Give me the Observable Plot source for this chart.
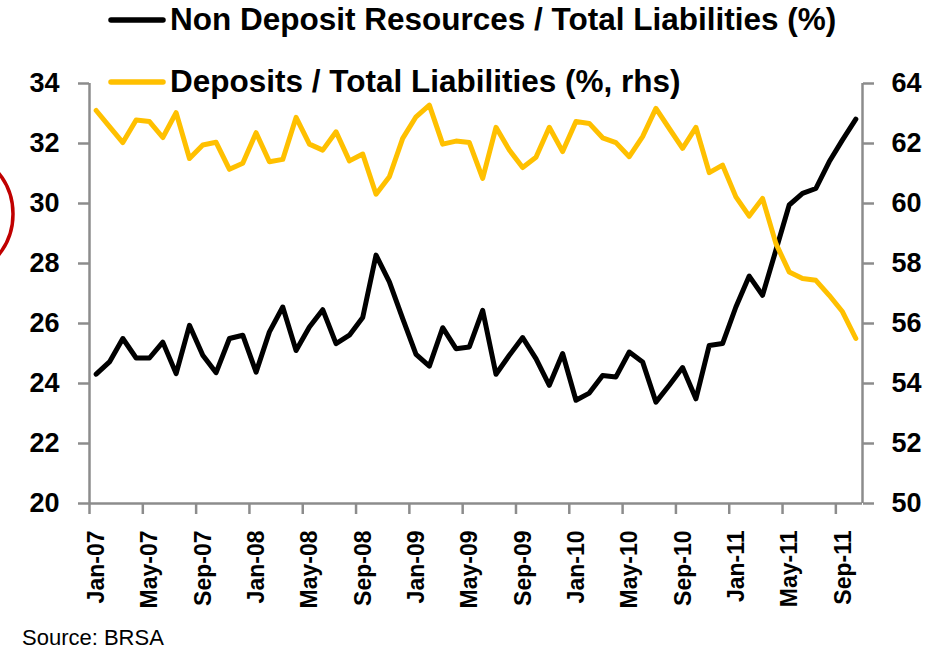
<!DOCTYPE html>
<html>
<head>
<meta charset="utf-8">
<script src="https://cdn.jsdelivr.net/npm/d3@7"></script>
<script src="https://cdn.jsdelivr.net/npm/@observablehq/plot@0.6"></script>
<style>
  html, body { margin: 0; padding: 0; background: #fff; }
  #chart svg { display: block; }
</style>
</head>
<body>
<div id="chart"></div>
<script>
// ---- categories (monthly, Jan-07 .. Oct-11) ----
const months = [
  "Jan-07","Feb-07","Mar-07","Apr-07","May-07","Jun-07","Jul-07","Aug-07","Sep-07","Oct-07","Nov-07","Dec-07",
  "Jan-08","Feb-08","Mar-08","Apr-08","May-08","Jun-08","Jul-08","Aug-08","Sep-08","Oct-08","Nov-08","Dec-08",
  "Jan-09","Feb-09","Mar-09","Apr-09","May-09","Jun-09","Jul-09","Aug-09","Sep-09","Oct-09","Nov-09","Dec-09",
  "Jan-10","Feb-10","Mar-10","Apr-10","May-10","Jun-10","Jul-10","Aug-10","Sep-10","Oct-10","Nov-10","Dec-10",
  "Jan-11","Feb-11","Mar-11","Apr-11","May-11","Jun-11","Jul-11","Aug-11","Sep-11","Oct-11"
];

// ---- series values ----
const nonDepositRatio = [
  24.31,24.72,25.50,24.85,24.85,25.38,24.33,25.94,24.94,24.36,
  25.50,25.61,24.38,25.72,26.55,25.10,25.88,26.46,25.33,25.61,
  26.20,28.28,27.39,26.16,24.97,24.58,25.86,25.16,25.22,26.44,
  24.31,24.94,25.53,24.83,23.94,25.00,23.44,23.68,24.27,24.22,
  25.05,24.72,23.38,23.94,24.53,23.49,25.27,25.33,26.55,27.58,
  26.94,28.44,29.95,30.34,30.50,31.39,32.12,32.81
];
const depositRatio = [
  63.10,62.56,62.03,62.78,62.73,62.20,63.03,61.50,61.95,62.04,
  61.14,61.34,62.36,61.39,61.47,62.87,61.98,61.78,62.39,61.42,
  61.65,60.31,60.89,62.17,62.89,63.28,61.98,62.08,62.03,60.84,
  62.54,61.78,61.20,61.54,62.54,61.73,62.73,62.67,62.19,62.03,
  61.56,62.23,63.17,62.50,61.84,62.54,61.03,61.28,60.22,59.58,
  60.17,58.67,57.72,57.50,57.44,56.94,56.39,55.50
];

// ---- tick labels ----
const leftTicks = [20, 22, 24, 26, 28, 30, 32, 34];
const rightTicks = [50, 52, 54, 56, 58, 60, 62, 64];
const xTickLabels = ["Jan-07","May-07","Sep-07","Jan-08","May-08","Sep-08","Jan-09","May-09",
                     "Sep-09","Jan-10","May-10","Sep-10","Jan-11","May-11","Sep-11"];
const seriesNames = ["Non Deposit Resources / Total Liabilities (%)", "Deposits / Total Liabilities (%, rhs)"];
const sourceNote = "Source: BRSA";

// right axis (50–64) is aligned with left axis (20–34)
const rhsOffset = rightTicks[0] - leftTicks[0];

const rows = months.map((m, i) => ({i, m, nd: nonDepositRatio[i], dep: depositRatio[i] - rhsOffset}));
const labelIdx = xTickLabels.map(l => months.indexOf(l));
const boundaries = labelIdx.map(i => i - 0.5);

const font = "'Liberation Sans', Arial, sans-serif";
const gray = "#8c8c8c";
const gold = "#FFC000";

const chart = Plot.plot({
  width: 938,
  height: 650,
  marginTop: 83,
  marginBottom: 147,
  marginLeft: 89,
  marginRight: 76,
  style: {fontFamily: font, background: "#fff", overflow: "visible", color: "#000"},
  x: {type: "linear", domain: [-0.5, months.length - 0.5]},
  y: {domain: [leftTicks[0], leftTicks[leftTicks.length - 1]]},
  marks: [
    // axis lines
    Plot.ruleY([leftTicks[0]], {stroke: gray, strokeWidth: 2.5}),
    Plot.ruleX([-0.5], {stroke: gray, strokeWidth: 2.5}),
    Plot.ruleX([months.length - 0.5], {stroke: gray, strokeWidth: 2.5}),
    // left axis
    Plot.axisY({anchor: "left", ticks: leftTicks, tickSize: 11, tickPadding: 19,
      stroke: gray, strokeWidth: 2.5, fill: "#000", fontSize: 27, fontWeight: "bold", label: null}),
    // right axis
    Plot.axisY({anchor: "right", ticks: rightTicks.map(v => v - rhsOffset), tickFormat: v => v + rhsOffset,
      tickSize: 11, tickPadding: 18, stroke: gray, strokeWidth: 2.5, fill: "#000",
      fontSize: 27, fontWeight: "bold", label: null}),
    // x tick marks between categories
    Plot.axisX({anchor: "bottom", ticks: boundaries, tickSize: 11, tickFormat: () => "",
      stroke: gray, strokeWidth: 2.5, label: null}),
    // x tick labels (rotated)
    Plot.text(labelIdx, {x: d => d, frameAnchor: "bottom", text: d => months[d], rotate: -90,
      textAnchor: "end", dx: 8, dy: 27, fontSize: 23, fontWeight: "bold", fill: "#000"}),
    // series
    Plot.line(rows, {x: "i", y: "nd", stroke: "#000", strokeWidth: 5, strokeLinejoin: "round", strokeLinecap: "round"}),
    Plot.line(rows, {x: "i", y: "dep", stroke: gold, strokeWidth: 5, strokeLinejoin: "round", strokeLinecap: "round"})
  ]
});

document.getElementById("chart").appendChild(chart);

// legend, caption and annotation
const svg = d3.select(chart);
const legend = [
  {name: seriesNames[0], color: "#000", y: 20, ty: 30},
  {name: seriesNames[1], color: gold, y: 82, ty: 92}
];
const lg = svg.append("g").attr("text-anchor", "start");
lg.selectAll("line").data(legend).join("line")
  .attr("x1", 111).attr("x2", 163)
  .attr("y1", d => d.y).attr("y2", d => d.y)
  .attr("stroke", d => d.color).attr("stroke-width", 5.5).attr("stroke-linecap", "round");
lg.selectAll("text").data(legend).join("text")
  .attr("x", 170).attr("y", d => d.ty)
  .attr("text-anchor", "start")
  .attr("font-family", font).attr("font-size", 31.5).attr("font-weight", "bold")
  .attr("fill", "#000")
  .text(d => d.name);

svg.append("text")
  .attr("x", 22).attr("y", 645)
  .attr("text-anchor", "start")
  .attr("font-family", font).attr("font-size", 22).attr("fill", "#000")
  .text(sourceNote);

svg.append("circle")
  .attr("cx", -52).attr("cy", 214).attr("r", 65)
  .attr("fill", "none").attr("stroke", "#c00000").attr("stroke-width", 3.5);
</script>
</body>
</html>
